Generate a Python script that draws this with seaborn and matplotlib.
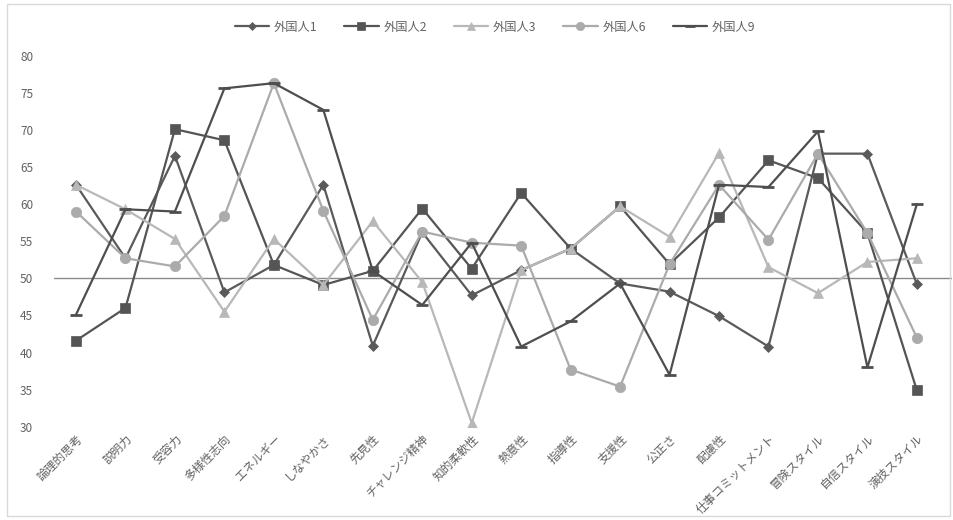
import numpy as np
import pandas as pd
import matplotlib
matplotlib.use("Agg")
import matplotlib.pyplot as plt
from matplotlib.patches import Rectangle
import seaborn as sns

categories = ['論理的思考', '説明力', '受容力', '多様性志向', 'エネルギー', 'しなやかさ',
              '先見性', 'チャレンジ精神', '知的柔軟性', '熱意性', '指導性', '支援性',
              '公正さ', '配慮性', '仕事コミットメント', '冒険スタイル', '自信スタイル', '演技スタイル']

person1 = [62.6, 52.7, 66.5, 48.1, 51.8, 62.6, 40.9, 56.2, 47.7, 51.1, 54.0, 49.3, 48.2, 44.9, 40.8, 66.8, 66.8, 49.2]
person2 = [41.6, 46.0, 70.1, 68.6, 51.8, 49.1, 51.0, 59.4, 51.3, 61.5, 54.0, 59.7, 51.9, 58.2, 65.9, 63.5, 56.1, 34.9]
person3 = [62.6, 59.3, 55.3, 45.5, 55.3, 49.1, 57.7, 49.5, 30.5, 51.1, 54.0, 59.7, 55.6, 66.9, 51.5, 48.0, 52.2, 52.7]
person6 = [59.0, 52.7, 51.6, 58.4, 76.3, 59.1, 44.4, 56.3, 54.8, 54.4, 37.7, 35.4, 51.9, 62.6, 55.2, 66.8, 56.1, 42.0]
person9 = [45.1, 59.3, 59.0, 75.6, 76.3, 72.7, 51.0, 46.4, 54.8, 40.8, 44.2, 49.3, 37.0, 62.6, 62.3, 69.8, 38.0, 60.0]

series_names = ['外国人1', '外国人2', '外国人3', '外国人6', '外国人9']
series_values = [person1, person2, person3, person6, person9]
y_ticks = [30, 35, 40, 45, 50, 55, 60, 65, 70, 75, 80]

# line/marker styling per series
styles = {
    '外国人1': dict(color='#5a5a5a', marker='D', ms=5, mew=0.5),
    '外国人2': dict(color='#555555', marker='s', ms=7.5, mew=0.5),
    '外国人3': dict(color='#b8b8b8', marker='^', ms=6.5, mew=0.5),
    '外国人6': dict(color='#ababab', marker='o', ms=7.5, mew=0.5),
    '外国人9': dict(color='#4e4e4e', marker='_', ms=9, mew=2.0),
}

df = pd.concat([
    pd.DataFrame({'idx': np.arange(len(categories)), 'category': categories,
                  'score': vals, 'person': name})
    for name, vals in zip(series_names, series_values)
], ignore_index=True)

sns.set_theme(style='white')
plt.rcParams['font.family'] = ['Noto Sans CJK JP', 'DejaVu Sans']
text_color = '#636363'

fig = plt.figure(figsize=(9.54, 5.2), dpi=100)
ax = fig.add_axes([54 / 954, 1 - 426.7 / 520, (952 - 54) / 954, (426.7 - 55.7) / 520])

handles = []
for z, name in enumerate(series_names):
    st = styles[name]
    sub = df[df['person'] == name]
    sns.lineplot(data=sub, x='idx', y='score', ax=ax, color=st['color'],
                 linewidth=1.6, marker=st['marker'], markersize=st['ms'],
                 markeredgewidth=st['mew'], markeredgecolor=st['color'],
                 sort=False, legend=False, zorder=3 + z)
    handles.append(plt.Line2D([], [], color=st['color'], linewidth=1.6,
                              marker=st['marker'], markersize=st['ms'] * 0.8,
                              markeredgewidth=st['mew'], markeredgecolor=st['color']))

# category axis crossing at 50
ax.axhline(50, color='#8a8a8a', linewidth=1.0, zorder=2)

ax.set_xlim(-0.445, 17.71)
ax.set_ylim(30, 80)
ax.set_yticks(y_ticks)
ax.set_yticklabels([str(t) for t in y_ticks], fontsize=8.5, color=text_color)
ax.tick_params(axis='y', length=0, pad=15)
ax.set_xticks(np.arange(len(categories)))
ax.set_xticklabels([])
ax.tick_params(axis='x', length=0)
for s in ax.spines.values():
    s.set_visible(False)
ax.set_xlabel('')
ax.set_ylabel('')
ax.set_facecolor('none')

# rotated category labels below the plot area
for i, lab in enumerate(categories):
    ax.annotate(lab, xy=(i, 30), xycoords='data', xytext=(0, -4),
                textcoords='offset points', rotation=45, ha='right', va='top',
                rotation_mode='anchor', fontsize=8.5, color=text_color,
                annotation_clip=False)

leg = fig.legend(handles, series_names, loc='center', bbox_to_anchor=(0.519, 0.948),
                 ncol=5, frameon=False, fontsize=8.8, handlelength=2.8,
                 columnspacing=2.2, handletextpad=0.4)
for t in leg.get_texts():
    t.set_color(text_color)

# thin frame around the chart area
fig.patches.append(Rectangle((7 / 954, 4 / 520), (950 - 7) / 954, (516 - 4) / 520,
                             transform=fig.transFigure, fill=False,
                             edgecolor='#d9d9d9', linewidth=1.0))

fig.savefig('out.png', dpi=100, facecolor='white')
